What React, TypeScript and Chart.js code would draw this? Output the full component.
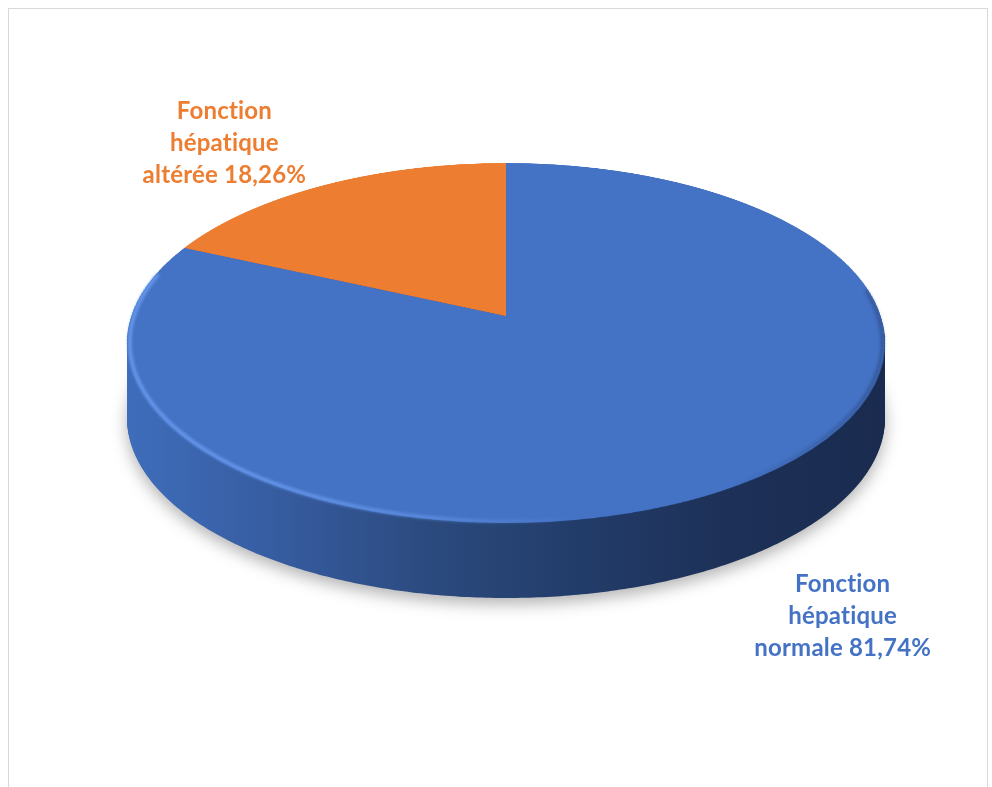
import React, { useEffect, useRef } from 'react';
import { Chart, registerables } from 'chart.js';

Chart.register(...registerables);

// ---- data ----
const categories = ['Fonction hépatique normale', 'Fonction hépatique altérée'];
const percentages = [81.74, 18.26];
const sliceColors = ['#4472C4', '#ED7D31'];
const labelColors = ['#4472C4', '#ED7D31'];

// ---- 3D / perspective look (layout constants, canvas px) ----
const FAR_Y = 154;   // far edge of the top face
const MID_Y = 307;   // projected centre of the disc
const NEAR_Y = 514;  // near edge of the top face
const HALF_W = 379;  // widest half-width of the top face
const DEPTH = 75;    // thickness of the disc
const LABEL_OFFSET = [[104, 131], [-101, -41]];
const FONT_SIZE = 24;
const LINE_H = 32;

const C = (2 * MID_Y - NEAR_Y - FAR_Y) / (NEAR_Y - FAR_Y);
const A = NEAR_Y * (1 + C) - MID_Y;
let PEAK = 0;
for (let t = -1; t <= 1; t += 0.001) PEAK = Math.max(PEAK, Math.sqrt(Math.max(0, 1 - t * t)) / (1 + C * t));
const RIM = HALF_W / PEAK;

function project(cx: number, u: number, t: number) {
  const w = 1 + C * t;
  return { x: cx + (RIM * u) / w, y: (A * t + MID_Y) / w };
}
const rowToT = (y: number) => (MID_Y - y) / (y * C - A);

const fmt = (v: number) => v.toFixed(2).replace('.', ',') + '%';

function hGradient(ctx: CanvasRenderingContext2D, x0: number, x1: number, stops: string[]) {
  const g = ctx.createLinearGradient(x0, 0, x1, 0);
  stops.forEach((c, i) => g.addColorStop(i / (stops.length - 1), c));
  return g;
}

function sectorPath(ctx: CanvasRenderingContext2D, cx: number, start: number, end: number, dy: number) {
  ctx.beginPath();
  const c0 = project(cx, 0, 0);
  ctx.moveTo(c0.x, c0.y + dy);
  const n = Math.max(2, Math.ceil((end - start) / 0.01));
  for (let i = 0; i <= n; i++) {
    const a = start + ((end - start) * i) / n;
    const p = project(cx, Math.cos(a), Math.sin(a));
    ctx.lineTo(p.x, p.y + dy);
  }
  ctx.closePath();
}

const pie3d = {
  id: 'pie3d',
  afterDatasetsDraw(chart: any) {
    const arcs = chart.getDatasetMeta(0).data;
    if (!arcs.length) return;
    const ctx: CanvasRenderingContext2D = chart.ctx;
    const canvas: HTMLCanvasElement = chart.canvas;
    const dpr = chart.currentDevicePixelRatio || 1;
    const { x: cx, y: cy, outerRadius: R } = arcs[0].getProps(['x', 'y', 'outerRadius'], true);

    // keep the flat pie that Chart.js just drew, then clear it
    const off = document.createElement('canvas');
    off.width = canvas.width;
    off.height = canvas.height;
    off.getContext('2d')!.drawImage(canvas, 0, 0);
    ctx.save();
    ctx.clearRect(cx - R - 2, cy - R - 2, 2 * R + 4, 2 * R + 4);

    // side of the disc
    const sides = [
      hGradient(ctx, cx - HALF_W, cx + HALF_W, ['#3F6DBB', '#365CA0', '#2B4A7E', '#223C69', '#1D3057', '#1A2B4F']),
      hGradient(ctx, cx - HALF_W, cx + HALF_W, ['#B85F22', '#9C501C', '#843F15', '#6E3410', '#5E2C0D', '#55280C']),
    ];
    for (let d = DEPTH; d >= 1; d--) {
      arcs.forEach((arc: any, i: number) => {
        const { startAngle, endAngle } = arc.getProps(['startAngle', 'endAngle'], true);
        ctx.save();
        if (d === DEPTH) {
          ctx.shadowColor = 'rgba(0,0,0,0.30)';
          ctx.shadowBlur = 16;
          ctx.shadowOffsetY = 6;
        }
        sectorPath(ctx, cx, startAngle, endAngle, d);
        ctx.fillStyle = sides[i];
        ctx.fill();
        ctx.restore();
      });
    }

    // top face: perspective warp of the library's pie, row by row
    for (let Y = Math.floor(FAR_Y) - 1; Y <= Math.ceil(NEAR_Y) + 1; Y++) {
      const t = rowToT(Y + 0.5);
      if (t < -1.01 || t > 1.01) continue;
      const t2 = rowToT(Y + 1.5);
      const k = RIM / R / (1 + C * t);
      const sh = Math.max(Math.abs(t2 - t) * R, 0.5);
      const sy = cy + t * R - sh / 2;
      ctx.drawImage(off, (cx - R) * dpr, sy * dpr, 2 * R * dpr, sh * dpr, cx - R * k, Y, 2 * R * k, 1);
    }

    // soft bevel highlight / shade along the front rim
    const g = hGradient(ctx, cx - HALF_W, cx + HALF_W, [
      'rgba(115,165,250,0.8)', 'rgba(115,165,250,0.75)', 'rgba(115,165,250,0.5)', 'rgba(115,165,250,0.0)', 'rgba(20,35,70,0.0)', 'rgba(20,35,70,0.35)',
    ]);
    ctx.beginPath();
    const a0 = -0.15, a1 = Math.PI + 0.25;
    for (let i = 0; i <= 200; i++) {
      const a = a0 + ((a1 - a0) * i) / 200;
      const p = project(cx, 0.993 * Math.cos(a), 0.993 * Math.sin(a));
      if (i === 0) ctx.moveTo(p.x, p.y); else ctx.lineTo(p.x, p.y);
    }
    ctx.strokeStyle = g;
    ctx.lineWidth = 3.5;
    (ctx as any).filter = 'blur(1.4px)';
    ctx.stroke();
    ctx.restore();
  },
  afterDraw(chart: any) {
    const ctx: CanvasRenderingContext2D = chart.ctx;
    const arcs = chart.getDatasetMeta(0).data;
    if (!arcs.length) return;
    ctx.save();
    ctx.font = `bold ${FONT_SIZE}px Lato, "Open Sans", sans-serif`;
    (ctx as any).letterSpacing = '0.2px';
    (ctx as any).textRendering = 'optimizeSpeed';
    (ctx as any).fontKerning = 'normal';
    ctx.textAlign = 'center';
    ctx.textBaseline = 'middle';
    arcs.forEach((arc: any, i: number) => {
      const { startAngle, endAngle, x } = arc.getProps(['startAngle', 'endAngle', 'x'], true);
      const mid = (startAngle + endAngle) / 2;
      const rim = project(x, Math.cos(mid), Math.sin(mid));
      const lx = rim.x + LABEL_OFFSET[i][0];
      const ly = rim.y + LABEL_OFFSET[i][1];
      const words = categories[i].split(' ');
      const lines = [words[0], words[1], words.slice(2).join(' ') + ' ' + fmt(percentages[i])];
      ctx.fillStyle = labelColors[i];
      lines.forEach((t, j) => ctx.fillText(t, lx, ly + (j - 1) * LINE_H));
    });
    ctx.restore();
  },
};

export default function App() {
  const ref = useRef<HTMLCanvasElement>(null);
  useEffect(() => {
    if (!ref.current) return;
    const chart = new Chart(ref.current, {
      type: 'pie',
      data: {
        labels: categories,
        datasets: [{ data: percentages, backgroundColor: sliceColors, borderWidth: 0, clip: false } as any],
      },
      options: {
        animation: false,
        responsive: true,
        maintainAspectRatio: false,
        events: [],
        layout: { padding: { left: 118, right: 102, top: 20, bottom: 20 } },
        plugins: { legend: { display: false }, tooltip: { enabled: false } },
      },
      plugins: [pie3d],
    });
    return () => chart.destroy();
  }, []);
  return (
    <div
      style={{
        position: 'fixed',
        left: 8,
        top: 8,
        width: 978,
        height: 798,
        border: '1px solid #D9D9D9',
        background: '#fff',
      }}
    >
      <canvas ref={ref} />
    </div>
  );
}
